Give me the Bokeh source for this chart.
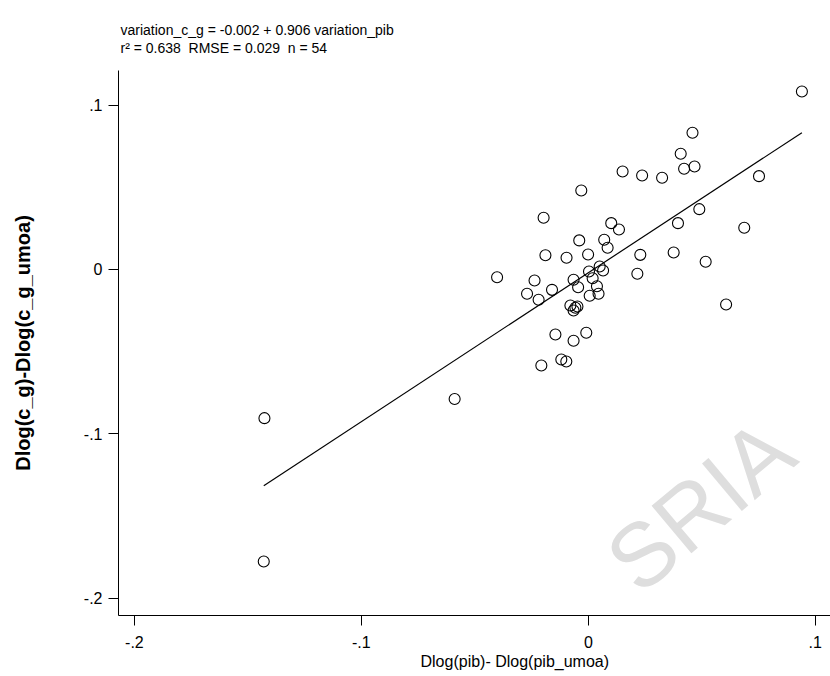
import numpy as np
from bokeh.plotting import figure
from bokeh.models import Range1d, FixedTicker, Label, Title
from bokeh.embed import file_html
from bokeh.resources import INLINE

# Data
x_pib = [0.0941, 0.0459, 0.0407, 0.0151, 0.0237, 0.0325, 0.0422, 0.0468, 0.0752,
         -0.0031, -0.0197, 0.0101, 0.0135, 0.0489, 0.0395, 0.0687, -0.0040, 0.0070,
         0.0085, -0.0189, -0.0096, -0.0001, 0.0229, 0.0376, 0.0517, -0.0402, -0.0237,
         0.0003, 0.0050, 0.0065, 0.0216, -0.0065, 0.0019, -0.0270, -0.0160, -0.0219,
         -0.0045, 0.0038, 0.0006, 0.0045, -0.0079, -0.0057, -0.0065, -0.0145, -0.0065,
         -0.0009, -0.0207, -0.0119, -0.0097, 0.0607, -0.1427, -0.1430, -0.0589, -0.0048]
y_cg = [0.1083, 0.0832, 0.0704, 0.0596, 0.0572, 0.0558, 0.0613, 0.0627, 0.0568,
        0.0481, 0.0315, 0.0282, 0.0243, 0.0367, 0.0282, 0.0254, 0.0177, 0.0181,
        0.0132, 0.0087, 0.0071, 0.0091, 0.0089, 0.0103, 0.0047, -0.0047, -0.0067,
        -0.0012, 0.0018, -0.0006, -0.0026, -0.0063, -0.0053, -0.0148, -0.0124, -0.0184,
        -0.0108, -0.0102, -0.0160, -0.0148, -0.0219, -0.0233, -0.0250, -0.0396, -0.0434,
        -0.0385, -0.0584, -0.0548, -0.0560, -0.0213, -0.0905, -0.1777, -0.0788, -0.0225]
intercept = -0.002
slope = 0.906
x_ticks = [-0.2, -0.1, 0.0, 0.1]
x_tick_labels = ["-.2", "-.1", "0", ".1"]
y_ticks = [-0.2, -0.1, 0.0, 0.1]
y_tick_labels = ["-.2", "-.1", "0", ".1"]
header_1 = "variation_c_g = -0.002 + 0.906 variation_pib"
header_2 = "r\u00b2 = 0.638 \u00a0RMSE = 0.029 \u00a0n = 54"
x_title = "Dlog(pib)- Dlog(pib_umoa)"
y_title = "Dlog(c_g)-Dlog(c_g_umoa)"
watermark = "SRIA"

FONT = "Liberation Sans"

p = figure(width=830, height=676, output_backend="svg", toolbar_location=None,
           x_range=Range1d(-0.207, 0.1067), y_range=Range1d(-0.2106, 0.1211),
           min_border_left=118, min_border_right=0, min_border_top=70,
           min_border_bottom=61)
p.outline_line_color = None
p.xgrid.visible = False
p.ygrid.visible = False
p.background_fill_color = "white"
p.border_fill_color = "white"

# header: two lines in one title block
p.title.text = header_1 + "\n" + header_2
p.title.align = "left"
p.title.vertical_align = "top"
p.title.offset = 2
p.title.text_font = FONT
p.title.text_font_size = "14px"
p.title.text_font_style = "normal"
p.title.text_color = "black"
p.title.text_line_height = 1.15
p.title.standoff = 26

# watermark
p.add_layout(Label(x=0.0493, y=-0.1436, text=watermark, angle=40, angle_units="deg",
                   text_align="center", text_baseline="middle",
                   text_font=FONT, text_font_size="90px",
                   text_color="#dedede"))

# fit line
xs = np.array([min(x_pib), max(x_pib)])
ys = intercept + slope * xs
p.line(xs, ys, line_color="black", line_width=1.2)

p.scatter(x_pib, y_cg, marker="circle", size=11, fill_color=None,
          line_color="black", line_width=1.1)

for ax, ticks, labels in ((p.xaxis[0], x_ticks, x_tick_labels),
                          (p.yaxis[0], y_ticks, y_tick_labels)):
    ax.ticker = FixedTicker(ticks=ticks)
    ax.major_label_overrides = {t: l for t, l in zip(ticks, labels)}
    ax.minor_tick_line_color = None
    ax.major_tick_in = 0
    ax.major_tick_out = 10
    ax.axis_line_color = "black"
    ax.major_tick_line_color = "black"
    ax.major_label_text_font = FONT
    ax.major_label_text_font_size = "16px"
    ax.major_label_text_color = "black"

p.xaxis[0].major_label_standoff = 10

# x-axis title, placed as in the reference (left of the frame's centre)
p.add_layout(Title(text=x_title, align="left", offset=302, text_font=FONT,
                   text_font_size="16px", text_font_style="normal",
                   text_color="black", standoff=0), "below")

p.yaxis[0].major_label_standoff = 6
p.yaxis[0].major_label_orientation = "horizontal"
p.yaxis[0].axis_label = y_title
p.yaxis[0].axis_label_text_font = FONT
p.yaxis[0].axis_label_text_font_size = "20px"
p.yaxis[0].axis_label_text_font_style = "bold"
p.yaxis[0].axis_label_text_color = "black"
p.yaxis[0].axis_label_standoff = 47

open("out.html", "w").write(file_html(p, INLINE))
